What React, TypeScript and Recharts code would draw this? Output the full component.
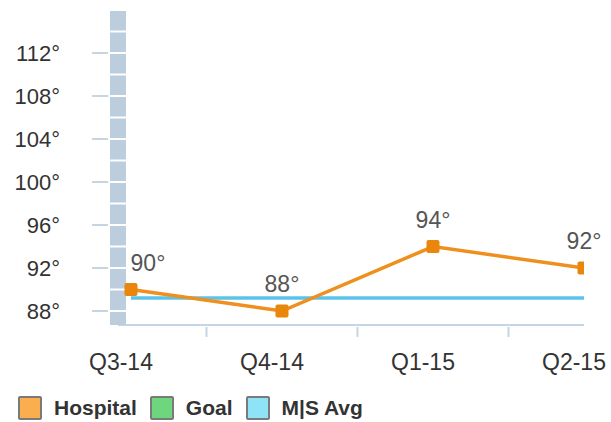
import { LineChart, Line, XAxis, YAxis } from 'recharts';

const quarters = ['Q3-14', 'Q4-14', 'Q1-15', 'Q2-15'];
const hospital = [90, 88, 94, 92];
const msAvg = [89.2, 89.2, 89.2, 89.2];
const yTicks = [88, 92, 96, 100, 104, 108, 112];
const xTicks = [0, 0.5, 1, 1.5, 2, 2.5, 3];
const legendItems = [
  { name: 'Hospital', color: '#FBAE4E' },
  { name: 'Goal', color: '#6ED67C' },
  { name: 'M|S Avg', color: '#8EE4F6' },
];

const data = quarters.map((q, i) => ({ idx: i, quarter: q, hospital: hospital[i], avg: msAvg[i] }));

const YTick = ({ x, y, payload }: any) => (
  <g>
    <line x1={x - 24} x2={x - 8} y1={y} y2={y} stroke="#C6D5E4" strokeWidth={2} />
    <text x={x - 56} y={y} dy={8} textAnchor="end" fontSize={22} fill="#333">
      {payload.value}°
    </text>
  </g>
);

const XTick = ({ x, y, payload }: any) => {
  const v = payload.value;
  if (Number.isInteger(v)) {
    return (
      <text x={x - 10} y={y + 43} textAnchor="middle" fontSize={23} fill="#333">
        {quarters[v]}
      </text>
    );
  }
  return <line x1={x} x2={x} y1={y} y2={y + 10} stroke="#C6D5E4" strokeWidth={2} />;
};

const SquareDot = ({ cx, cy }: any) => (
  <rect x={cx - 6.5} y={cy - 6.5} width={13} height={13} rx={2} fill="#E8870C" />
);

const PointLabel = (props: any) => {
  const vb = props.viewBox || {};
  const x = props.x ?? vb.x;
  const y = props.y ?? vb.y;
  const shift = props.index === 0 ? 17 : 0;
  return (
    <text x={x + shift} y={y - 19} textAnchor="middle" fontSize={23} fill="#555">
      {props.value}°
    </text>
  );
};

export default function App() {
  return (
    <div
      style={{
        position: 'absolute',
        left: 0,
        top: 0,
        width: 611,
        height: 422,
        background: '#fff',
        fontFamily: '"Liberation Sans", Arial, sans-serif',
      }}
    >
      <LineChart width={611} height={422} data={data} margin={{ top: 10, right: 27, bottom: 0, left: 0 }}>
        <XAxis
          type="number"
          dataKey="idx"
          domain={[-0.086, 3]}
          allowDataOverflow
          ticks={xTicks}
          interval={0}
          height={97}
          tickSize={0}
          tickLine={false}
          tick={<XTick />}
          axisLine={{ stroke: '#C6D5E4', strokeWidth: 2 }}
        />
        <YAxis
          domain={[86.7, 116]}
          allowDataOverflow
          ticks={yTicks}
          interval={0}
          width={118}
          tickSize={0}
          tickLine={false}
          tick={<YTick />}
          axisLine={{ stroke: '#BCCDDE', strokeWidth: 16, strokeDasharray: '19.5 2', strokeDashoffset: -1 }}
        />
        <Line
          dataKey="avg"
          stroke="#5BC3EA"
          strokeWidth={3.5}
          dot={false}
          activeDot={false}
          isAnimationActive={false}
        />
        <Line
          dataKey="hospital"
          stroke="#EF8F1D"
          strokeWidth={3.5}
          dot={<SquareDot />}
          activeDot={false}
          label={<PointLabel />}
          isAnimationActive={false}
        />
      </LineChart>
      <div style={{ position: 'absolute', left: 18, top: 396, display: 'flex', alignItems: 'center' }}>
        {legendItems.map((item) => (
          <div key={item.name} style={{ display: 'flex', alignItems: 'center', marginRight: 13 }}>
            <span
              style={{
                width: 20,
                height: 20,
                background: item.color,
                border: '2px solid #7A7A7A',
                borderRadius: 2,
                marginRight: 12,
                boxSizing: 'content-box',
              }}
            />
            <span style={{ fontSize: 21, fontWeight: 'bold', color: '#333' }}>{item.name}</span>
          </div>
        ))}
      </div>
    </div>
  );
}
